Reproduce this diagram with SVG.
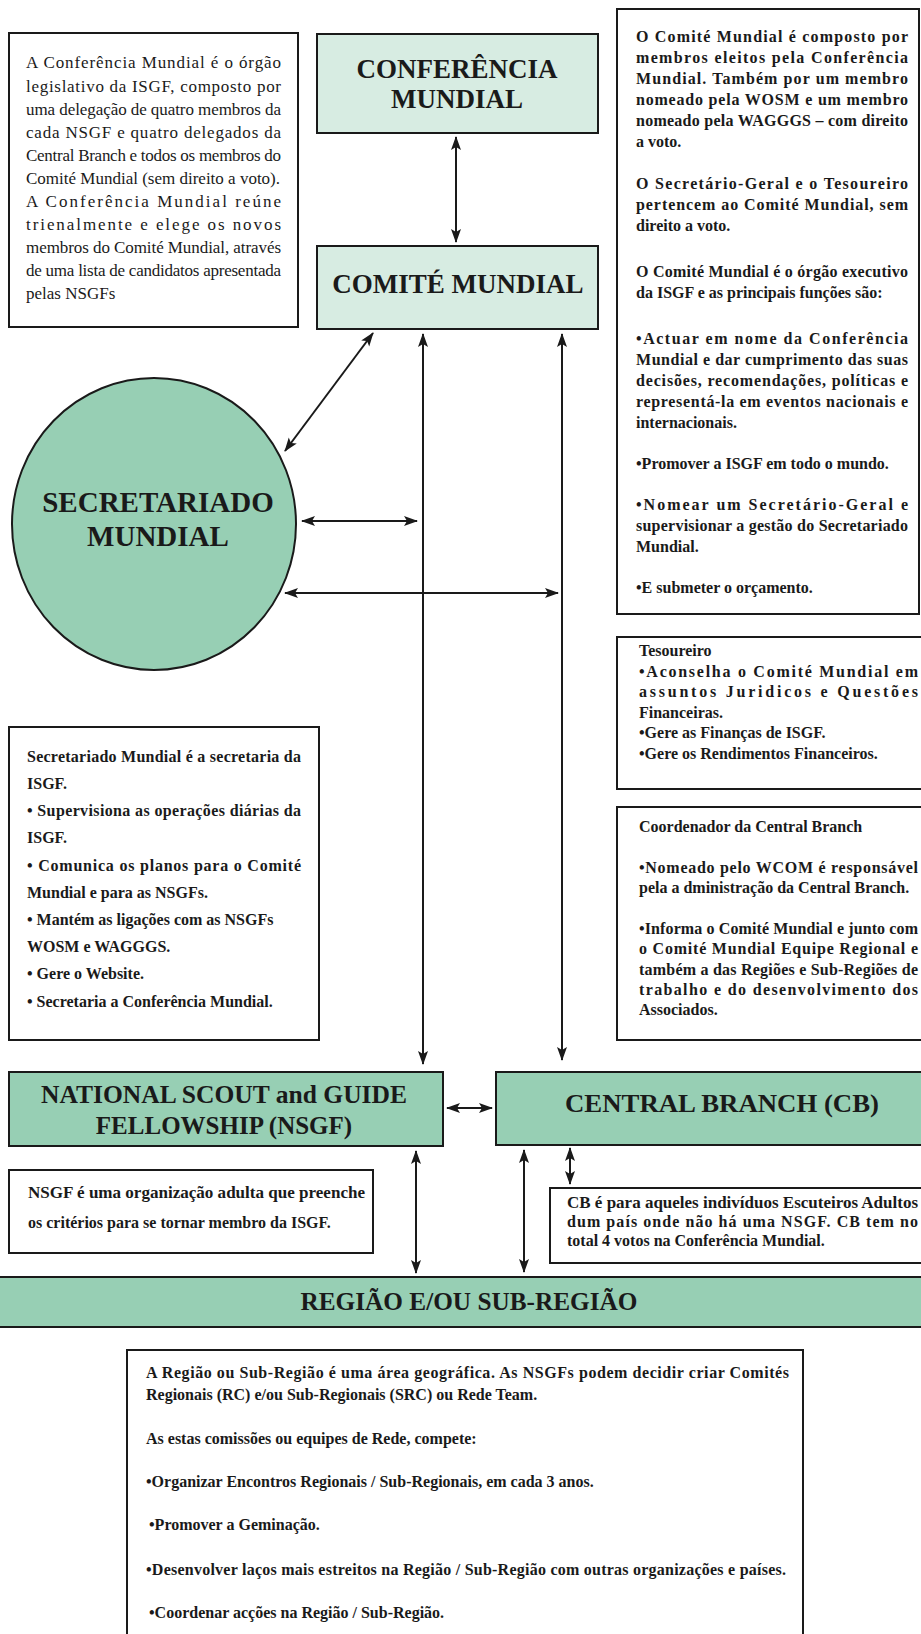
<svg xmlns="http://www.w3.org/2000/svg" width="921" height="1634" viewBox="0 0 921 1634">
<style>
.box{fill:#ffffff;stroke:#1a1a1a;stroke-width:2}
.lt{fill:#d7ece2;stroke:#1a1a1a;stroke-width:2}
.md{fill:#97cfb4;stroke:#1a1a1a;stroke-width:2}
.r{font-family:"Liberation Serif","Times New Roman",serif;font-size:17px;fill:#1a1a1a}
.b{font-family:"Liberation Serif","Times New Roman",serif;font-size:16px;font-weight:bold;fill:#1a1a1a}
.t{font-family:"Liberation Serif","Times New Roman",serif;font-weight:bold;fill:#1a1a1a;text-anchor:middle}
.c{stroke:#1a1a1a;stroke-width:2;fill:none;marker-start:url(#ah);marker-end:url(#ah)}
</style>
<defs>
<marker id="ah" markerUnits="userSpaceOnUse" markerWidth="14" markerHeight="12" refX="13" refY="5" orient="auto-start-reverse">
<path d="M0,0 L14,5 L0,10 L3,5 Z" fill="#1a1a1a"/>
</marker>
</defs>

<g id="conf-text">
<rect class="box" x="9" y="33" width="289" height="294"/>
<text class="r" x="26" y="68" textLength="255" lengthAdjust="spacing">A Conferência Mundial é o órgão</text>
<text class="r" x="26" y="92" textLength="255" lengthAdjust="spacing">legislativo da ISGF,  composto por</text>
<text class="r" x="26" y="115" textLength="255" lengthAdjust="spacing">uma delegação de quatro  membros da</text>
<text class="r" x="26" y="138" textLength="255" lengthAdjust="spacing">cada NSGF e quatro delegados da</text>
<text class="r" x="26" y="161" textLength="255" lengthAdjust="spacing">Central Branch e todos os membros do</text>
<text class="r" x="26" y="184">Comité Mundial (sem direito a voto).</text>
<text class="r" x="26" y="207" textLength="255" lengthAdjust="spacing">A Conferência Mundial reúne</text>
<text class="r" x="26" y="230" textLength="255" lengthAdjust="spacing">trienalmente e elege os novos</text>
<text class="r" x="26" y="253" textLength="255" lengthAdjust="spacing">membros do Comité Mundial, através</text>
<text class="r" x="26" y="276" textLength="255" lengthAdjust="spacing">de uma lista de candidatos apresentada</text>
<text class="r" x="26" y="299">pelas NSGFs</text>
</g>

<g id="conferencia">
<rect class="lt" x="317" y="34" width="281" height="99"/>
<text class="t" x="457" y="78" font-size="27">CONFERÊNCIA</text>
<text class="t" x="457" y="108" font-size="27">MUNDIAL</text>
</g>

<g id="comite">
<rect class="lt" x="317" y="246" width="281" height="83"/>
<text class="t" x="458" y="293" font-size="27">COMITÉ MUNDIAL</text>
</g>

<g id="comite-text">
<rect class="box" x="617" y="9" width="302" height="605"/>
<text class="b" x="636" y="42" textLength="272" lengthAdjust="spacing">O Comité Mundial é composto por</text>
<text class="b" x="636" y="63" textLength="272" lengthAdjust="spacing">membros eleitos pela Conferência</text>
<text class="b" x="636" y="84" textLength="272" lengthAdjust="spacing">Mundial. Também por um membro</text>
<text class="b" x="636" y="105" textLength="272" lengthAdjust="spacing">nomeado pela WOSM e um membro</text>
<text class="b" x="636" y="126" textLength="272" lengthAdjust="spacing">nomeado pela WAGGGS – com direito</text>
<text class="b" x="636" y="147">a voto.</text>
<text class="b" x="636" y="189" textLength="272" lengthAdjust="spacing">O Secretário-Geral e o Tesoureiro</text>
<text class="b" x="636" y="210" textLength="272" lengthAdjust="spacing">pertencem ao Comité Mundial, sem</text>
<text class="b" x="636" y="231">direito a voto.</text>
<text class="b" x="636" y="277" textLength="272" lengthAdjust="spacing">O Comité Mundial é o órgão executivo</text>
<text class="b" x="636" y="298">da ISGF e as principais funções são:</text>
<text class="b" x="636" y="344" textLength="272" lengthAdjust="spacing">•Actuar em nome da Conferência</text>
<text class="b" x="636" y="365" textLength="272" lengthAdjust="spacing">Mundial e dar cumprimento das suas</text>
<text class="b" x="636" y="386" textLength="272" lengthAdjust="spacing">decisões, recomendações, políticas e</text>
<text class="b" x="636" y="407" textLength="272" lengthAdjust="spacing">representá-la em eventos nacionais e</text>
<text class="b" x="636" y="428">internacionais.</text>
<text class="b" x="636" y="469">•Promover a ISGF em todo o mundo.</text>
<text class="b" x="636" y="510" textLength="272" lengthAdjust="spacing">•Nomear um Secretário-Geral e</text>
<text class="b" x="636" y="531" textLength="272" lengthAdjust="spacing">supervisionar a gestão do Secretariado</text>
<text class="b" x="636" y="552">Mundial.</text>
<text class="b" x="636" y="593">•E submeter o orçamento.</text>
</g>

<g id="secretariado">
<ellipse class="md" cx="154" cy="524" rx="142" ry="146"/>
<text class="t" x="158" y="512" font-size="29">SECRETARIADO</text>
<text class="t" x="158" y="546" font-size="29">MUNDIAL</text>
</g>

<g id="tesoureiro">
<rect class="box" x="617" y="637" width="320" height="152"/>
<text class="b" x="639" y="656">Tesoureiro</text>
<text class="b" x="639" y="677" textLength="279" lengthAdjust="spacing">•Aconselha o Comité Mundial em</text>
<text class="b" x="639" y="697" textLength="279" lengthAdjust="spacing">assuntos Juridicos e Questões</text>
<text class="b" x="639" y="718">Financeiras.</text>
<text class="b" x="639" y="738">•Gere as Finanças de ISGF.</text>
<text class="b" x="639" y="759">•Gere os Rendimentos Financeiros.</text>
</g>

<g id="coordenador">
<rect class="box" x="617" y="807" width="320" height="233"/>
<text class="b" x="639" y="832">Coordenador da Central Branch</text>
<text class="b" x="639" y="873" textLength="279" lengthAdjust="spacing">•Nomeado pelo WCOM é responsável</text>
<text class="b" x="639" y="893">pela a dministração da Central Branch.</text>
<text class="b" x="639" y="934" textLength="279" lengthAdjust="spacing">•Informa o Comité Mundial e junto com</text>
<text class="b" x="639" y="954" textLength="279" lengthAdjust="spacing">o Comité Mundial Equipe Regional e</text>
<text class="b" x="639" y="975" textLength="279" lengthAdjust="spacing">também a das Regiões e Sub-Regiões de</text>
<text class="b" x="639" y="995" textLength="279" lengthAdjust="spacing">trabalho e do desenvolvimento dos</text>
<text class="b" x="639" y="1015">Associados.</text>
</g>

<g id="secretariado-text">
<rect class="box" x="9" y="727" width="310" height="313"/>
<text class="b" x="27" y="762" textLength="274" lengthAdjust="spacing">Secretariado Mundial é a secretaria da</text>
<text class="b" x="27" y="789">ISGF.</text>
<text class="b" x="27" y="816" textLength="274" lengthAdjust="spacing">• Supervisiona as operações diárias da</text>
<text class="b" x="27" y="843">ISGF.</text>
<text class="b" x="27" y="871" textLength="274" lengthAdjust="spacing">• Comunica os planos para o Comité</text>
<text class="b" x="27" y="898">Mundial e para as NSGFs.</text>
<text class="b" x="27" y="925">• Mantém as ligações com as NSGFs</text>
<text class="b" x="27" y="952">WOSM e WAGGGS.</text>
<text class="b" x="27" y="979">• Gere  o Website.</text>
<text class="b" x="27" y="1007">• Secretaria a Conferência Mundial.</text>
</g>

<g id="nsgf">
<rect class="md" x="9" y="1072" width="434" height="74"/>
<text class="t" x="224" y="1103" font-size="25" textLength="366" lengthAdjust="spacingAndGlyphs">NATIONAL SCOUT and GUIDE</text>
<text class="t" x="224" y="1134" font-size="25">FELLOWSHIP (NSGF)</text>
</g>

<g id="central-branch">
<rect class="md" x="496" y="1072" width="440" height="73"/>
<text class="t" x="722" y="1112" font-size="26" textLength="314" lengthAdjust="spacingAndGlyphs">CENTRAL BRANCH (CB)</text>
</g>

<g id="nsgf-text">
<rect class="box" x="9" y="1170" width="364" height="83"/>
<text class="b" x="28" y="1198" textLength="337" lengthAdjust="spacingAndGlyphs">NSGF é uma organização adulta que preenche</text>
<text class="b" x="28" y="1228">os critérios para se tornar membro da ISGF.</text>
</g>

<g id="cb-text">
<rect class="box" x="550" y="1188" width="386" height="75"/>
<text class="b" x="567" y="1208" textLength="351" lengthAdjust="spacingAndGlyphs">CB é para aqueles indivíduos Escuteiros Adultos</text>
<text class="b" x="567" y="1227" textLength="351" lengthAdjust="spacing">dum país onde não há uma NSGF. CB tem no</text>
<text class="b" x="567" y="1246">total 4 votos na Conferência Mundial.</text>
</g>

<g id="regiao">
<rect class="md" x="-5" y="1277" width="940" height="50"/>
<text class="t" x="469" y="1310" font-size="25" textLength="337" lengthAdjust="spacingAndGlyphs">REGIÃO E/OU SUB-REGIÃO</text>
</g>

<g id="regiao-text">
<rect class="box" x="127" y="1350" width="676" height="300"/>
<text class="b" x="146" y="1378" textLength="643" lengthAdjust="spacing">A Região ou Sub-Região é uma área geográfica. As NSGFs podem decidir criar Comités</text>
<text class="b" x="146" y="1400">Regionais (RC) e/ou Sub-Regionais (SRC) ou Rede Team.</text>
<text class="b" x="146" y="1444">As estas comissões ou equipes de Rede, compete:</text>
<text class="b" x="146" y="1487">•Organizar Encontros Regionais / Sub-Regionais, em cada 3 anos.</text>
<text class="b" x="149" y="1530">•Promover a Geminação.</text>
<text class="b" x="146" y="1575" textLength="640" lengthAdjust="spacing">•Desenvolver laços mais estreitos na Região / Sub-Região com outras organizações e países.</text>
<text class="b" x="149" y="1618">•Coordenar acções na Região / Sub-Região.</text>
</g>

<g id="connectors">
<line class="c" x1="456" y1="137" x2="456" y2="242"/>
<line class="c" x1="285" y1="451" x2="373" y2="333"/>
<line class="c" x1="423" y1="334" x2="423" y2="1064"/>
<line class="c" x1="562" y1="334" x2="562" y2="1060"/>
<line class="c" x1="302" y1="521" x2="417" y2="521"/>
<line class="c" x1="285" y1="593" x2="558" y2="593"/>
<line class="c" x1="447" y1="1108" x2="492" y2="1108"/>
<line class="c" x1="416" y1="1151" x2="416" y2="1273"/>
<line class="c" x1="524" y1="1150" x2="524" y2="1272"/>
<line class="c" x1="570" y1="1148" x2="570" y2="1184"/>
</g>
</svg>
